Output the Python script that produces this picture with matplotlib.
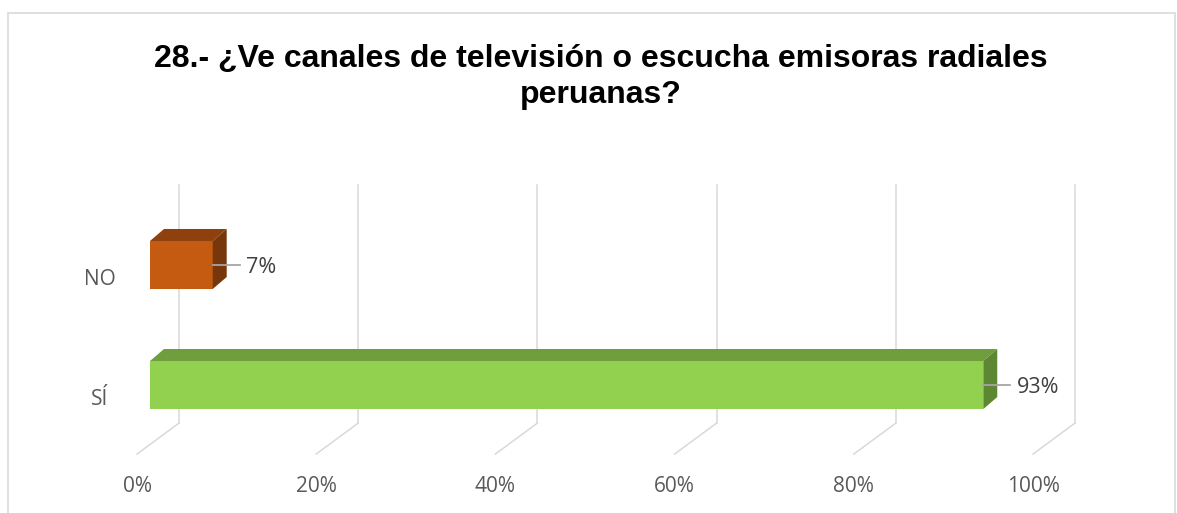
import matplotlib
matplotlib.use("Agg")
import matplotlib.pyplot as plt
from matplotlib.patches import Polygon, Rectangle

# data
categories = ["SÍ", "NO"]
values = [93, 7]
value_labels = ["93%", "7%"]
tick_values = [0, 20, 40, 60, 80, 100]
tick_labels = ["0%", "20%", "40%", "60%", "80%", "100%"]
title = "28.- ¿Ve canales de televisión o escucha emisoras radiales\nperuanas?"

front_colors = ["#92D050", "#C55A11"]
top_colors = ["#6F9E3C", "#8E400D"]
side_colors = ["#5E8733", "#78370B"]

# 3d look offsets, in data units
bar_half = 0.2
bar_dx, bar_dy = 1.56, 0.1
wall_dx, wall_bottom, wall_top = 3.24, -0.317, 1.667
floor_dx, floor_y = -1.45, -0.575

fig = plt.figure(figsize=(11.77, 5.13), dpi=100)
ax = fig.add_axes([150 / 1177, 43 / 513, 896 / 1177, 320 / 513])
ax.set_xlim(0, 100)
ax.set_ylim(-0.708, 1.958)
ax.axis("off")

grid_col = "#D9D9D9"
for t in tick_values:
    ax.plot([t + wall_dx, t + wall_dx], [wall_bottom, wall_top], color=grid_col, lw=1.1, zorder=1, clip_on=False)
    ax.plot([t + wall_dx, t + floor_dx], [wall_bottom, floor_y], color=grid_col, lw=1.1, zorder=1, clip_on=False)

for i, (cat, v) in enumerate(zip(categories, values)):
    lo, hi = i - bar_half, i + bar_half
    ax.add_patch(Rectangle((0, lo), v, hi - lo, facecolor=front_colors[i], edgecolor="none", zorder=3))
    top = [(0, hi), (v, hi), (v + bar_dx, hi + bar_dy), (bar_dx, hi + bar_dy)]
    ax.add_patch(Polygon(top, closed=True, facecolor=top_colors[i], edgecolor="none", zorder=3))
    side = [(v, lo), (v, hi), (v + bar_dx, hi + bar_dy), (v + bar_dx, lo + bar_dy)]
    ax.add_patch(Polygon(side, closed=True, facecolor=side_colors[i], edgecolor="none", zorder=3))

    # leader + data label
    ax.plot([v, v + 3.0], [i, i], color="#A6A6A6", lw=1.3, zorder=4, clip_on=False)
    ax.text(v + 3.7, i - 0.02, value_labels[i], ha="left", va="center", fontsize=15.5,
            family="Open Sans", color="#404040", zorder=5)

    ax.text(-5.6, i - 0.12, cat, ha="center", va="center", fontsize=15,
            family="Open Sans", color="#595959")

for t, lab in zip(tick_values, tick_labels):
    ax.text(t + floor_dx, -0.845, lab, ha="center", va="center", fontsize=15,
            family="Open Sans", color="#595959", clip_on=False)

fig.text(601 / 1177, 0.850, title, ha="center", va="center", fontsize=23,
         fontweight="bold", family="Liberation Sans", color="black", linespacing=1.3)

# chart frame
fig.patches.append(Rectangle((8 / 1177, -0.05), 1167 / 1177, 1.05 - 13 / 513,
                             transform=fig.transFigure, fill=False,
                             edgecolor="#D9D9D9", lw=1.2))

fig.savefig("out.png", dpi=100)
